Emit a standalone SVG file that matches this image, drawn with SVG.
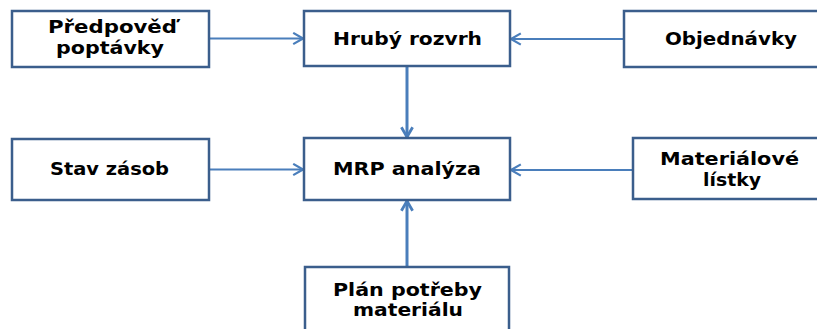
<svg xmlns="http://www.w3.org/2000/svg" width="817" height="329" viewBox="0 0 817 329">
  <style>
    .box { fill: #ffffff; stroke: #3b5e8c; stroke-width: 2.5; }
    .lbl { font-family: "DejaVu Sans", "Liberation Sans", sans-serif; font-weight: bold; font-size: 17px; fill: #000000; text-anchor: middle; }
    .edge { stroke: #4a7ebb; fill: none; }
    .thin { stroke-width: 1.8; }
    .thick { stroke-width: 3; }
  </style>
  <defs>
    <marker id="open" viewBox="0 0 10 10" refX="9" refY="5" markerWidth="5" markerHeight="5" orient="auto" markerUnits="userSpaceOnUse">
      <path d="M1,1 L9,5 L1,9" fill="none" stroke="#4a7ebb" stroke-width="1.8"/>
    </marker>
    <marker id="openV" viewBox="0 0 10 10" refX="9" refY="5" markerWidth="14" markerHeight="14" orient="auto" markerUnits="userSpaceOnUse">
      <path d="M2,1 L9,5 L2,9" fill="none" stroke="#4a7ebb" stroke-width="2"/>
    </marker>
    <marker id="openH" viewBox="0 0 10 10" refX="9" refY="5" markerWidth="14" markerHeight="14" orient="auto" markerUnits="userSpaceOnUse">
      <path d="M2,1 L9,5 L2,9" fill="none" stroke="#4a7ebb" stroke-width="1.6"/>
    </marker>
  </defs>

  <g id="connectors">
    <line class="edge thin" x1="209" y1="38.5" x2="303" y2="38.5" marker-end="url(#openH)"/>
    <line class="edge thin" x1="624" y1="39" x2="511" y2="39" marker-end="url(#openH)"/>
    <line class="edge thick" x1="407" y1="66" x2="407" y2="137" marker-end="url(#openV)"/>
    <line class="edge thin" x1="209" y1="169.5" x2="303" y2="169.5" marker-end="url(#openH)"/>
    <line class="edge thin" x1="633" y1="170" x2="511" y2="170" marker-end="url(#openH)"/>
    <line class="edge thick" x1="407" y1="267" x2="407" y2="201" marker-end="url(#openV)"/>
  </g>

  <g id="predpoved">
    <rect class="box" x="12" y="11" width="197" height="56"/>
    <text class="lbl" x="112.5" y="33" textLength="129" lengthAdjust="spacingAndGlyphs">Předpověď</text>
    <text class="lbl" x="110" y="54" textLength="108" lengthAdjust="spacingAndGlyphs">poptávky</text>
  </g>

  <g id="hruby-rozvrh">
    <rect class="box" x="304" y="11" width="206" height="55"/>
    <text class="lbl" x="407.5" y="45" textLength="149" lengthAdjust="spacingAndGlyphs">Hrubý rozvrh</text>
  </g>

  <g id="objednavky">
    <rect class="box" x="624" y="11" width="214" height="56"/>
    <text class="lbl" x="731" y="45" textLength="132" lengthAdjust="spacingAndGlyphs">Objednávky</text>
  </g>

  <g id="stav-zasob">
    <rect class="box" x="12" y="139" width="197" height="61"/>
    <text class="lbl" x="109.5" y="175" textLength="119" lengthAdjust="spacingAndGlyphs">Stav zásob</text>
  </g>

  <g id="mrp-analyza">
    <rect class="box" x="304" y="138" width="206" height="62"/>
    <text class="lbl" x="407" y="175" textLength="148" lengthAdjust="spacingAndGlyphs">MRP analýza</text>
  </g>

  <g id="materialove-listky">
    <rect class="box" x="633" y="138" width="200" height="61"/>
    <text class="lbl" x="729.5" y="165" textLength="139" lengthAdjust="spacingAndGlyphs">Materiálové</text>
    <text class="lbl" x="732" y="186" textLength="58" lengthAdjust="spacingAndGlyphs">lístky</text>
  </g>

  <g id="plan-potreby">
    <rect class="box" x="305" y="267" width="204" height="80"/>
    <text class="lbl" x="407.5" y="296" textLength="149" lengthAdjust="spacingAndGlyphs">Plán potřeby</text>
    <text class="lbl" x="408" y="316" textLength="110" lengthAdjust="spacingAndGlyphs">materiálu</text>
  </g>
</svg>
